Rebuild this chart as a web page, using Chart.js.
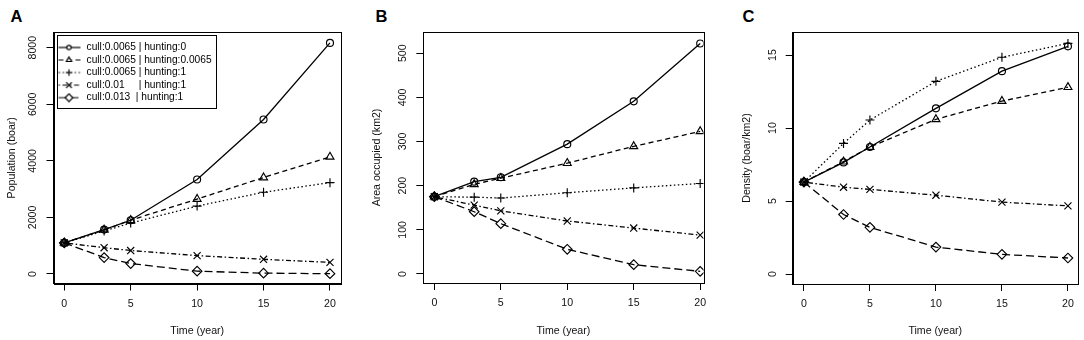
<!DOCTYPE html>
<html><head><meta charset="utf-8">
<script src="https://cdn.jsdelivr.net/npm/chart.js@4.4.0/dist/chart.umd.min.js"></script>
<style>
html,body{margin:0;padding:0;background:#fff;width:1084px;height:340px;overflow:hidden}
canvas{position:absolute;top:0}
.lab{position:absolute;top:8px;font:bold 16.5px "Liberation Sans",Arial,sans-serif;line-height:16px;color:#000}
</style></head><body>
<div class="lab" style="left:10.5px">A</div>
<div class="lab" style="left:375.5px">B</div>
<div class="lab" style="left:742.5px">C</div>
<canvas id="cA" width="361" height="340" style="left:0px"></canvas>
<canvas id="cB" width="361" height="340" style="left:361px"></canvas>
<canvas id="cC" width="362" height="340" style="left:722px"></canvas>
<script>
// ---- data ----
const YEARS = [0, 3, 5, 10, 15, 20];
const X_TICKS = [0, 5, 10, 15, 20];
const LEGEND_LABELS = [
  "cull:0.0065 | hunting:0",
  "cull:0.0065 | hunting:0.0065",
  "cull:0.0065 | hunting:1",
  "cull:0.01     | hunting:1",
  "cull:0.013  | hunting:1"
];
// Panel A: population (boar)
const POP_S1 = [1100, 1570, 1900, 3340, 5460, 8170];
const POP_S2 = [1100, 1560, 1900, 2650, 3410, 4140];
const POP_S3 = [1100, 1520, 1800, 2400, 2890, 3230];
const POP_S4 = [1100, 930, 830, 650, 520, 410];
const POP_S5 = [1100, 580, 370, 100, 30, 10];
const POP_TICKS = [0, 2000, 4000, 6000, 8000];
// Panel B: area occupied (km2)
const AREA_S1 = [175, 209, 219, 294, 391, 522];
const AREA_S2 = [175, 203, 217, 251, 289, 323];
const AREA_S3 = [175, 174, 172, 184, 195, 205];
const AREA_S4 = [175, 156, 143, 120, 104, 88];
const AREA_S5 = [175, 141, 114, 56, 21, 6];
const AREA_TICKS = [0, 100, 200, 300, 400, 500];
// Panel C: density (boar/km2)
const DEN_S1 = [6.3, 7.65, 8.7, 11.35, 13.9, 15.6];
const DEN_S2 = [6.3, 7.7, 8.7, 10.6, 11.85, 12.8];
const DEN_S3 = [6.3, 8.95, 10.55, 13.2, 14.85, 15.8];
const DEN_S4 = [6.3, 5.95, 5.8, 5.4, 4.93, 4.67];
const DEN_S5 = [6.3, 4.08, 3.2, 1.85, 1.35, 1.1];
const DEN_TICKS = [0, 5, 10, 15];

// ---- styles ----
const FONT = '"Liberation Sans", Arial, sans-serif';
const INK = '#000';
const STY = [
  {ps: 'circle',   r: 3.5, lr: 2.2, dash: []},
  {ps: 'triangle', r: 4.6, lr: 3.0, dash: [5, 3.5]},
  {ps: 'cross',    r: 4.5, lr: 3.2, dash: [1.5, 2.5]},
  {ps: 'crossRot', r: 5.0, lr: 4.0, dash: [1.5, 2.5, 5, 2.5]},
  {ps: 'rectRot',  r: 4.8, lr: 3.8, dash: [8, 4]}
];

function sampleImg(i) {
  const c = document.createElement('canvas');
  c.width = 25; c.height = 10;
  const ctx = c.getContext('2d');
  ctx.strokeStyle = INK; ctx.lineWidth = 1.2;
  ctx.setLineDash(STY[i].dash);
  ctx.beginPath(); ctx.moveTo(2, 5); ctx.lineTo(24, 5); ctx.stroke();
  ctx.setLineDash([]);
  ctx.fillStyle = '#fff';
  Chart.helpers.drawPoint(ctx, {pointStyle: STY[i].ps, radius: STY[i].lr, borderWidth: 1.1, rotation: 0}, 12.5, 5);
  return c;
}

function makeDatasets(series) {
  return series.map((vals, i) => ({
    label: LEGEND_LABELS[i],
    data: YEARS.map((x, k) => ({x: x, y: vals[k]})),
    borderColor: INK, borderWidth: 1.3, borderDash: STY[i].dash,
    pointStyle: STY[i].ps, pointRadius: STY[i].r, pointHoverRadius: STY[i].r,
    pointBorderColor: INK, pointBackgroundColor: 'rgba(0,0,0,0)', pointBorderWidth: 1.15,
    tension: 0, fill: false
  }));
}

const boxPlugin = {
  id: 'box',
  afterDraw(chart) {
    const {ctx, chartArea: a} = chart;
    ctx.save();
    ctx.strokeStyle = INK; ctx.lineWidth = 1;
    const l = Math.round(a.left) + 0.5, t = Math.round(a.top) + 0.5;
    const r = Math.round(a.right) + 0.5, b = Math.round(a.bottom) + 0.5;
    ctx.strokeRect(l, t, r - l, b - t);
    ctx.restore();
  }
};

const legendPlace = {
  id: 'legendPlace',
  afterLayout(chart) {
    const L = chart.legend;
    if (!L || !L.options.display) return;
    const a = chart.chartArea;
    L.left = a.left + 0.65; L.top = a.top + 8;
    L.right = a.right; L.bottom = a.bottom;
    L.width = L.right - L.left; L.height = L.bottom - L.top;
  },
  afterDraw(chart) {
    const L = chart.legend;
    if (!L || !L.options.display || !L.legendHitBoxes || !L.legendHitBoxes.length) return;
    const hb = L.legendHitBoxes;
    let l = Infinity, t = Infinity, r = -Infinity, b = -Infinity;
    hb.forEach(h => { l = Math.min(l, h.left); t = Math.min(t, h.top); r = Math.max(r, h.left + h.width); b = Math.max(b, h.top + h.height); });
    const ctx = chart.ctx;
    ctx.save(); ctx.strokeStyle = INK; ctx.lineWidth = 1;
    const x0 = Math.round(l) + 0.5, y0 = Math.round(t - 7.5) + 0.5, x1 = Math.round(r + 4.5) + 0.5, y1 = Math.round(b + 5.3) + 0.5;
    ctx.strokeRect(x0, y0, x1 - x0, y1 - y0);
    ctx.restore();
  }
};

function makePanel(id, series, yTicks, yTitle, p) {
  const tickFont = {family: FONT, size: 10.6};
  new Chart(document.getElementById(id), {
    type: 'line',
    data: {datasets: makeDatasets(series)},
    options: {
      responsive: false, animation: false, devicePixelRatio: 1,
      layout: {padding: {left: p.padL, right: p.padR, top: 32, bottom: 0}},
      scales: {
        x: {
          type: 'linear', min: p.xmin, max: p.xmax,
          afterBuildTicks: s => { s.ticks = X_TICKS.map(v => ({value: v})); },
          afterFit: s => { s.height = p.xH; },
          grid: {display: true, drawOnChartArea: false, drawTicks: true, tickLength: 7, color: INK, lineWidth: 1},
          border: {display: true, color: INK, width: 1},
          ticks: {padding: 7, maxRotation: 0, autoSkip: false, font: tickFont, color: '#111', callback: v => String(v)},
          title: {display: true, text: 'Time (year)', font: tickFont, color: '#111', padding: {top: 0, bottom: 2.5}}
        },
        y: {
          type: 'linear', min: p.ymin, max: p.ymax,
          afterBuildTicks: s => { s.ticks = yTicks.map(v => ({value: v})); },
          afterFit: s => { s.width = p.yW; },
          grid: {display: true, drawOnChartArea: false, drawTicks: true, tickLength: 7, color: INK, lineWidth: 1},
          border: {display: true, color: INK, width: 1},
          ticks: {padding: p.yTickPad, minRotation: 90, maxRotation: 90, crossAlign: 'center', autoSkip: false, font: tickFont, color: '#111', callback: v => String(v)},
          title: {display: true, text: yTitle, font: tickFont, color: '#111', padding: {top: 0, bottom: 0}}
        }
      },
      plugins: {
        tooltip: {enabled: false},
        legend: {
          display: !!p.legend, position: 'chartArea', align: 'start',
          labels: {
            usePointStyle: true, pointStyleWidth: 25, padding: 2.35,
            font: {family: FONT, size: 10.2}, color: '#000',
            generateLabels: chart => chart.data.datasets.map((ds, i) => ({
              text: LEGEND_LABELS[i], pointStyle: sampleImg(i), fillStyle: 'rgba(0,0,0,0)',
              strokeStyle: 'rgba(0,0,0,0)', lineWidth: 0, hidden: false, datasetIndex: i, fontColor: '#000'
            }))
          }
        }
      }
    },
    plugins: [boxPlugin, legendPlace]
  });
}

makePanel('cA', [POP_S1, POP_S2, POP_S3, POP_S4, POP_S5], POP_TICKS, 'Population (boar)',
  {padL: 5.7, padR: 20, yW: 47.8, xH: 56.5, yTickPad: 1.8, xmin: -0.81, xmax: 20.83, ymin: -336, ymax: 8555, legend: true});
makePanel('cB', [AREA_S1, AREA_S2, AREA_S3, AREA_S4, AREA_S5], AREA_TICKS, 'Area occupied (km2)',
  {padL: 9.7, padR: 18.5, yW: 52.6, xH: 57, yTickPad: 4.2, xmin: -0.83, xmax: 20.25, ymin: -20.4, ymax: 548, legend: false});
makePanel('cC', [DEN_S1, DEN_S2, DEN_S3, DEN_S4, DEN_S5], DEN_TICKS, 'Density (boar/km2)',
  {padL: 18.7, padR: 5, yW: 52, xH: 56, yTickPad: 6.6, xmin: -0.85, xmax: 20.75, ymin: -0.68, ymax: 16.58, legend: false});
</script>
</body></html>
